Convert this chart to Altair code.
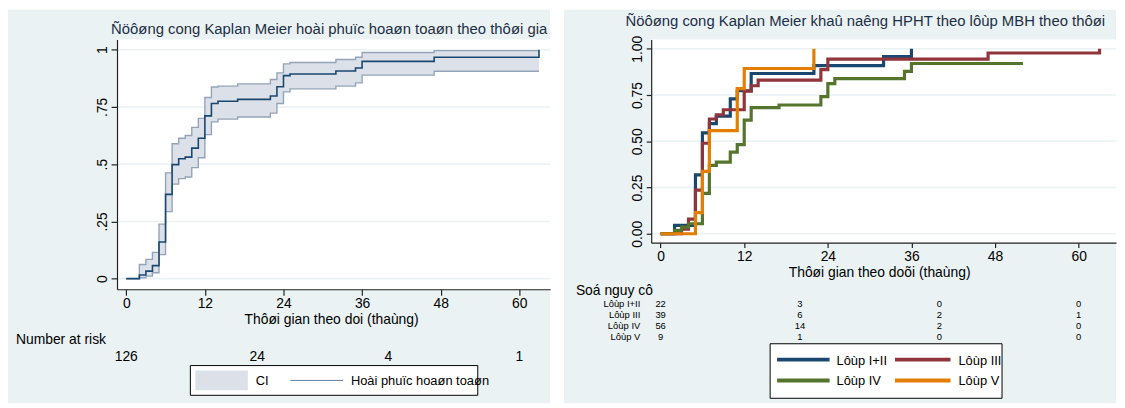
import altair as alt
import pandas as pd

FONT = "Liberation Sans, Arial, Helvetica, sans-serif"
BG = "#EAF2F3"
NAVY = "#1A476F"
TITLE_COLOR = "#1E2F45"
BAND_FILL = "#DCE1E9"
BAND_EDGE = "#93A4B8"

# ---------------- left panel data (overall Kaplan-Meier) ----------------
km_t = [0, 2, 3, 4, 5, 6, 7, 8, 9, 10, 11, 12, 13, 14, 17, 22, 23, 24, 25, 32, 35, 36, 47, 63]
km_s = [0, 0.016, 0.033, 0.057, 0.160, 0.368, 0.498, 0.524, 0.531, 0.570, 0.613, 0.711,
        0.765, 0.775, 0.783, 0.798, 0.838, 0.887, 0.894, 0.907, 0.920, 0.949, 0.967, 1.0]
ci_lo = [0, 0.004, 0.011, 0.026, 0.105, 0.293, 0.413, 0.437, 0.444, 0.485, 0.528, 0.629,
         0.685, 0.697, 0.706, 0.723, 0.765, 0.816, 0.829, 0.841, 0.855, 0.889, 0.906, 0.906]
ci_hi = [0, 0.062, 0.084, 0.115, 0.238, 0.462, 0.589, 0.613, 0.625, 0.661, 0.700, 0.791,
         0.837, 0.841, 0.851, 0.870, 0.899, 0.938, 0.944, 0.957, 0.967, 0.988, 0.996, 0.996]
risk_t = [0, 20, 40, 60]
risk_all = ["126", "24", "4", "1"]

x_ticks = [0, 12, 24, 36, 48, 60]
y_ticks = [0, 0.25, 0.5, 0.75, 1]
left_ylabels = ["0", ".25", ".5", ".75", "1"]

left_title = "Ñöôøng cong Kaplan Meier hoài phuïc hoaøn toaøn theo thôøi gian ñaùnh giaù"
left_xtitle = "Thôøi gian theo doi (thaùng)"
left_risk_label = "Number at risk"
left_legend = ["CI", "Hoài phuïc hoaøn toaøn"]

# ---------------- right panel data (by class) ----------------
groups = ["Lôùp I+II", "Lôùp III", "Lôùp IV", "Lôùp V"]
colors = ["#1A476F", "#90353B", "#55752F", "#E37E00"]
g1_t = [0, 2, 5, 6, 7, 8, 10, 11, 13, 22, 32, 36]
g1_s = [0, 0.045, 0.318, 0.545, 0.595, 0.636, 0.729, 0.773, 0.866, 0.909, 0.957, 1.0]
g2_t = [0, 3, 4, 5, 6, 7, 8, 9, 12, 13, 14, 23, 24, 47, 63]
g2_s = [0, 0.025, 0.079, 0.236, 0.489, 0.620, 0.643, 0.670, 0.771, 0.800, 0.830, 0.887, 0.944, 0.977, 1.0]
g3_t = [0, 2, 3, 4, 6, 7, 8, 10, 11, 12, 13, 17, 23, 24, 25, 35, 36, 52]
g3_s = [0, 0.018, 0.036, 0.054, 0.218, 0.370, 0.387, 0.441, 0.482, 0.614, 0.682, 0.696,
        0.741, 0.811, 0.838, 0.878, 0.920, 0.920]
g4_t = [0, 5, 6, 7, 11, 12, 22]
g4_s = [0, 0.114, 0.337, 0.557, 0.784, 0.893, 1.0]
series_t = [g1_t, g2_t, g3_t, g4_t]
series_s = [g1_s, g2_s, g3_s, g4_s]
risk_by_group = [["22", "3", "0", "0"], ["39", "6", "2", "1"], ["56", "14", "2", "0"], ["9", "1", "0", "0"]]

right_title = "Ñöôøng cong Kaplan Meier khaû naêng HPHT theo lôùp MBH theo thôøi gian"
right_xtitle = "Thôøi gian theo doõi (thaùng)"
right_risk_label = "Soá nguy cô"

# ---------------- helpers ----------------
one = pd.DataFrame({"k": [0]})


def vrect(x, x2, y, y2, fill, stroke=None, sw=0):
    kw = dict(fill=fill, strokeWidth=sw)
    if stroke:
        kw["stroke"] = stroke
    return alt.Chart(one).mark_rect(**kw).encode(
        x=alt.value(x), x2=alt.value(x2), y=alt.value(y), y2=alt.value(y2))


def vrule(x, x2, y, color, w):
    return alt.Chart(one).mark_rule(color=color, strokeWidth=w).encode(
        x=alt.value(x), x2=alt.value(x2), y=alt.value(y))


def vtext(s, x, y, size, align="left", color="#000000", **kw):
    return alt.Chart(pd.DataFrame({"s": [s]})).mark_text(
        align=align, baseline="alphabetic", fontSize=size, font=FONT, color=color, **kw
    ).encode(x=alt.value(x), y=alt.value(y), text="s:N")


# ---------------- left panel ----------------
LW, LH = 437, 252
xL = alt.Scale(domain=[-1.41, 64.7], nice=False, zero=False)
yL = alt.Scale(domain=[-0.0463, 1.0446], nice=False, zero=False)
ylab_expr = " : ".join(f"datum.value == {v} ? '{s}'" for v, s in zip(y_ticks, left_ylabels)) + " : ''"
xaxL = alt.Axis(values=x_ticks, format="d", tickSize=6, labelPadding=1, labelFlush=False,
                title=None, grid=False, zindex=1, labelAngle=0)
yaxL = alt.Axis(values=y_ticks, labelExpr=ylab_expr, labelAngle=270, labelAlign="center",
                labelBaseline="alphabetic", tickSize=6, labelPadding=5, title=None,
                grid=False, zindex=1)

grid_df = pd.DataFrame({"v": y_ticks})
ci_df = pd.DataFrame({"t": km_t, "lo": ci_lo, "hi": ci_hi})
km_df = pd.DataFrame({"t": km_t, "s": km_s})
riskL_df = pd.DataFrame({"t": risk_t, "n": risk_all})

bgL = vrect(-110, LW, -30, 367, BG)
plotL = vrect(0, LW, 0, LH, "#FFFFFF")
gridL = alt.Chart(grid_df).mark_rule(color=BG, strokeWidth=1.6).encode(
    y=alt.Y("v:Q", scale=yL, axis=yaxL), x=alt.value(0), x2=alt.value(LW))
band = alt.Chart(ci_df).mark_area(interpolate="step-after", color=BAND_FILL).encode(
    x=alt.X("t:Q", scale=xL, axis=xaxL), y=alt.Y("lo:Q", scale=yL, axis=yaxL), y2="hi:Q")
lo_line = alt.Chart(ci_df).mark_line(interpolate="step-after", color=BAND_EDGE, strokeWidth=1.4).encode(
    x=alt.X("t:Q", scale=xL, axis=xaxL), y=alt.Y("lo:Q", scale=yL, axis=yaxL))
hi_line = alt.Chart(ci_df).mark_line(interpolate="step-after", color=BAND_EDGE, strokeWidth=1.4).encode(
    x=alt.X("t:Q", scale=xL, axis=xaxL), y=alt.Y("hi:Q", scale=yL, axis=yaxL))
km_line = alt.Chart(km_df).mark_line(interpolate="step-after", color=NAVY, strokeWidth=1.6).encode(
    x=alt.X("t:Q", scale=xL, axis=xaxL), y=alt.Y("s:Q", scale=yL, axis=yaxL))
riskL = alt.Chart(riskL_df).mark_text(align="center", baseline="alphabetic", fontSize=14,
                                      font=FONT, color="#000000").encode(
    x=alt.X("t:Q", scale=xL, axis=xaxL), y=alt.value(324), text="n:N")

titleL = vtext(left_title, -6, -6, 15, color=TITLE_COLOR, limit=443, ellipsis="\u200b")
xtitleL = vtext(left_xtitle, LW / 2 - 2, 287, 14, align="center")
risk_lab_L = vtext(left_risk_label, -102, 307, 14)
legbox_L = vrect(74, 364, 329, 359, "#FFFFFF", stroke="#000000", sw=1)
legpatch_L = vrect(79, 132, 334, 354, BAND_FILL)
legtxt1_L = vtext(left_legend[0], 140, 349, 13)
legline_L = vrule(175, 228, 344, "#5F7EA3", 1)
legtxt2_L = vtext(left_legend[1], 236, 349, 13)

left = alt.layer(
    bgL, plotL, gridL, band, lo_line, hi_line, km_line, riskL,
    titleL, xtitleL, risk_lab_L, legbox_L, legpatch_L, legtxt1_L, legline_L, legtxt2_L
).properties(width=LW, height=LH)

# ---------------- right panel ----------------
RW, RH = 469, 205
xR = alt.Scale(domain=[-1.351, 65.36], nice=False, zero=False)
yR = alt.Scale(domain=[-0.0482, 1.0498], nice=False, zero=False)
xaxR = alt.Axis(values=x_ticks, format="d", tickSize=5, labelPadding=2, labelFlush=False,
                title=None, grid=False, zindex=1, labelAngle=0)
yaxR = alt.Axis(values=y_ticks, format=".2f", labelAngle=270, labelAlign="center",
                labelBaseline="alphabetic", tickSize=5, labelPadding=5, title=None,
                grid=False, zindex=1)

bgR = vrect(-88, RW, -30, 367, BG)
plotR = vrect(0, RW, 0, RH, "#FFFFFF")
gridR = alt.Chart(grid_df).mark_rule(color=BG, strokeWidth=1.6).encode(
    y=alt.Y("v:Q", scale=yR, axis=yaxR), x=alt.value(0), x2=alt.value(RW))

layersR = [bgR, plotR, gridR]
for ts, ss, c in zip(series_t, series_s, colors):
    df = pd.DataFrame({"t": ts, "s": ss})
    layersR.append(
        alt.Chart(df).mark_line(interpolate="step-after", color=c, strokeWidth=3.2).encode(
            x=alt.X("t:Q", scale=xR, axis=xaxR), y=alt.Y("s:Q", scale=yR, axis=yaxR)))

layersR.append(vtext(right_title, -26, -14, 15, color=TITLE_COLOR, limit=495, ellipsis="\u200b"))
layersR.append(vtext(right_xtitle, RW / 2 - 4, 240, 14, align="center"))
layersR.append(vtext(right_risk_label, -76, 258, 14))

row_y = [270, 281, 292, 303]
for g, nums, yy in zip(groups, risk_by_group, row_y):
    layersR.append(vtext(g, -11, yy, 9.5, align="right"))
    rdf = pd.DataFrame({"t": risk_t, "n": nums})
    layersR.append(
        alt.Chart(rdf).mark_text(align="center", baseline="alphabetic", fontSize=9.5,
                                 font=FONT, color="#000000").encode(
            x=alt.X("t:Q", scale=xR, axis=xaxR), y=alt.value(yy), text="n:N"))

layersR.append(vrect(120, 354, 307, 362, "#FFFFFF", stroke="#000000", sw=1))
leg_pos = [(127, 180, 187, 323), (246, 302, 310, 323), (127, 180, 187, 344), (246, 302, 310, 344)]
for g, c, (lx, lx2, tx, ly) in zip(groups, colors, leg_pos):
    layersR.append(vrule(lx, lx2, ly, c, 4))
    layersR.append(vtext(g, tx, ly + 5, 13))

right = alt.layer(*layersR).properties(width=RW, height=RH)

chart = alt.hconcat(left, right, spacing=13).properties(
    padding=0, background="#FFFFFF"
).configure_view(strokeWidth=0).configure_axis(
    domainColor="#222222", tickColor="#222222", domainWidth=1.2, tickWidth=1.2,
    labelColor="#000000", labelFont=FONT, labelFontSize=14
)

chart.save("out.html", embed_options={"renderer": "svg", "actions": False})
